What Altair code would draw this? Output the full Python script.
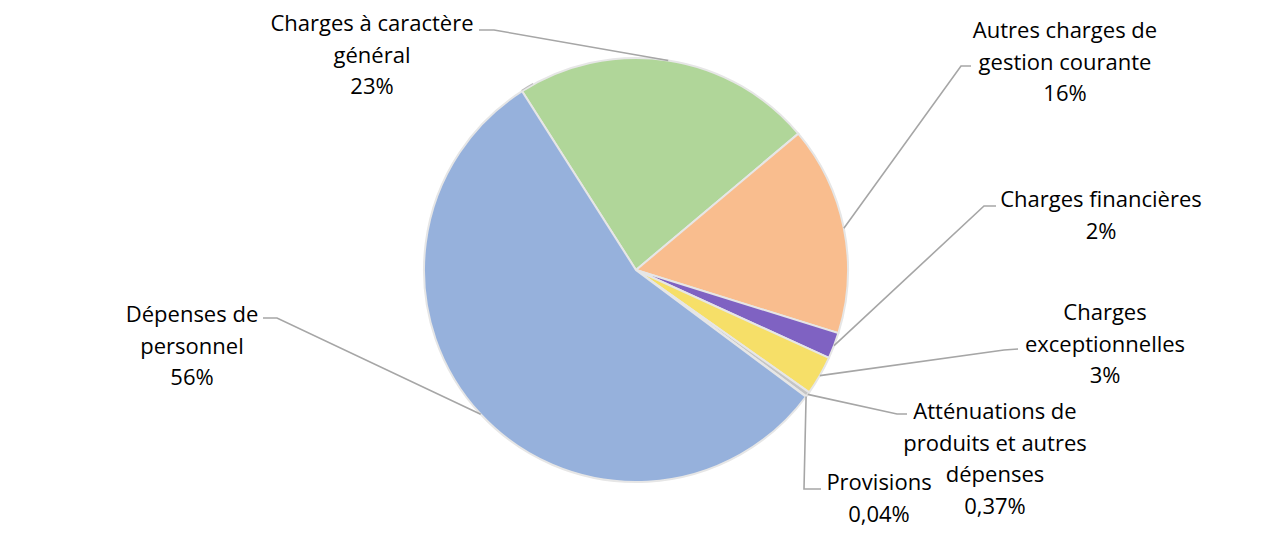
import altair as alt
import numpy as np
import pandas as pd

# données (répartition des dépenses de fonctionnement)
categories = [
    "Charges à caractère général",
    "Autres charges de gestion courante",
    "Charges financières",
    "Charges exceptionnelles",
    "Atténuations de produits et autres dépenses",
    "Provisions",
    "Dépenses de personnel",
]
values = [23, 16, 2, 3, 0.37, 0.04, 56]
labels = [
    "Charges à caractère\ngénéral\n23%",
    "Autres charges de\ngestion courante\n16%",
    "Charges financières\n2%",
    "Charges\nexceptionnelles\n3%",
    "Atténuations de\nproduits et autres\ndépenses\n0,37%",
    "Provisions\n0,04%",
    "Dépenses de\npersonnel\n56%",
]
colors = ["#b0d699", "#f9bd8e", "#7f62c2", "#f6df68", "#c4c4c4", "#a9bfdc", "#96b1dc"]

# mise en page (coordonnées écran)
W, H = 1264, 528
CX, CY, R = 636, 270, 212
START = np.deg2rad(-32.5)
label_pos = {  # centre x, ligne de base de la 1re ligne
    "Charges à caractère général": (372, 31),
    "Autres charges de gestion courante": (1065, 38),
    "Charges financières": (1101, 207),
    "Charges exceptionnelles": (1105, 320),
    "Atténuations de produits et autres dépenses": (995, 419),
    "Provisions": (879, 490),
    "Dépenses de personnel": (192, 322),
}
leader_pts = {  # coude, extrémité côté étiquette
    "Charges à caractère général": [(494, 30), (479, 30)],
    "Autres charges de gestion courante": [(961, 66), (971, 66)],
    "Charges financières": [(984, 206), (996, 206)],
    "Charges exceptionnelles": [(1004, 350), (1018, 349)],
    "Atténuations de produits et autres dépenses": [(897, 414), (907, 414)],
    "Provisions": [(804, 489), (821, 489)],
    "Dépenses de personnel": [(277, 318), (263, 318)],
}

df = pd.DataFrame({"cat": categories, "value": values, "label": labels})
df["idx"] = range(len(df))

total = sum(values)
mid = START + (np.cumsum(values) - np.array(values) / 2) / total * 2 * np.pi
df["px"] = CX + R * np.sin(mid)
df["py"] = CY - R * np.cos(mid)
df["lx"] = [label_pos[c][0] for c in categories]
df["ly"] = [label_pos[c][1] for c in categories]

rows = []
for c, px, py in zip(df["cat"], df["px"], df["py"]):
    pts = [(px, py)] + leader_pts[c]
    for k, (x, y) in enumerate(pts):
        rows.append({"cat": c, "k": k, "x": x, "y": y})
lines_df = pd.DataFrame(rows)

xs = alt.Scale(domain=[8, 8 + W])
ys = alt.Scale(domain=[8, 8 + H], reverse=True)

pie = (
    alt.Chart(df)
    .mark_arc(radius=R, x=CX - 8, y=CY - 8, stroke="#e6e6e6", strokeWidth=2)
    .encode(
        theta=alt.Theta("value:Q", stack=True,
                        scale=alt.Scale(range=[START, START + 2 * np.pi])),
        color=alt.Color("cat:N", scale=alt.Scale(domain=categories, range=colors), legend=None),
        order=alt.Order("idx:Q"),
    )
)

ring = (
    alt.Chart(pd.DataFrame({"v": [1]}))
    .mark_arc(radius=R + 1.5, radius2=R + 0.5, x=CX - 8, y=CY - 8, color="#bdbdbd")
    .encode(theta=alt.Theta("v:Q"))
)

leaders = (
    alt.Chart(lines_df)
    .mark_line(color="#a6a6a6", strokeWidth=1.6)
    .encode(
        x=alt.X("x:Q", scale=xs, axis=None),
        y=alt.Y("y:Q", scale=ys, axis=None),
        detail="cat:N",
        order="k:Q",
    )
)

texts = (
    alt.Chart(df)
    .mark_text(font="Open Sans", fontSize=22, color="#000000", align="center",
               baseline="alphabetic", lineBreak="\n", lineHeight=31.5)
    .encode(
        x=alt.X("lx:Q", scale=xs, axis=None),
        y=alt.Y("ly:Q", scale=ys, axis=None),
        text="label:N",
    )
)

chart = (
    alt.layer(pie, ring, leaders, texts)
    .properties(width=W, height=H, padding=0, autosize="none")
    .configure_view(stroke=None)
)

chart.save("out.html", embed_options={"renderer": "svg", "actions": False})
